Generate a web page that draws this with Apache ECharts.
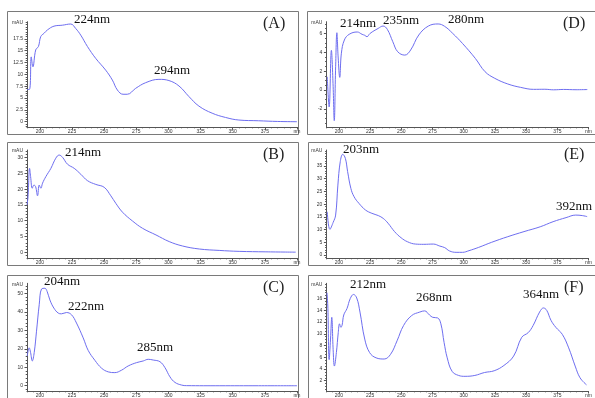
<!DOCTYPE html>
<html>
<head>
<meta charset="utf-8">
<script src="https://cdn.jsdelivr.net/npm/echarts@6/dist/echarts.min.js"></script>
<style>
html, body { margin: 0; background: #fff; }
#chart { width: 595px; height: 398px; }
</style>
</head>
<body>
<div id="chart"></div>
<script>
// spectra: wavelength (nm) and absorbance (mAU)
var nmA = [190, 192, 193.3, 194.6, 196.8, 198.9, 200.7, 203.3, 205.9, 211, 217.5, 224, 227.9, 231.8, 237, 243.4, 251.2, 256.4, 260.3, 264.7, 268, 274.5, 282.3, 292.6, 300.4, 308.2, 316, 323.7, 334, 344.4, 354.8, 370, 385, 400];
var auA = [6.8, 6.85, 13.7, 11.6, 15.2, 15.9, 18, 18.7, 19.4, 20.2, 20.4, 20.65, 19.7, 18.3, 15.9, 13.4, 10.9, 8.8, 6.7, 5.8, 5.8, 7.05, 8.25, 8.95, 8.7, 7.55, 5.3, 3.3, 1.8, 0.9, 0.35, 0.2, 0.05, 0];

var nmB = [190, 190.8, 192, 192.8, 194.1, 195.4, 196.7, 198.2, 199.5, 200.8, 202.1, 204.7, 208.6, 212.4, 215, 217.6, 221.5, 226.7, 231.9, 237, 243.5, 250, 255.2, 259.1, 264.3, 272.1, 279.9, 290.3, 300.6, 311, 324, 339.5, 355, 375.8, 399];
var auB = [15, 17.6, 26.6, 24, 20.3, 21.3, 20.8, 17.9, 21.3, 20.3, 21.9, 24, 26.6, 29.8, 30.8, 30.1, 27.9, 26.6, 24.7, 22.7, 21.5, 20.6, 17.9, 15.5, 12.7, 9.9, 7.6, 5.5, 3.4, 2.0, 1.05, 0.6, 0.3, 0.15, 0.05];

var nmC = [190.2, 191.7, 192.8, 194.1, 195.6, 197.4, 199.5, 201.3, 203.9, 205.7, 207.8, 210.9, 214.3, 216.8, 220.7, 224.6, 228.5, 233.7, 237.6, 242.8, 248, 253.2, 258.3, 263.5, 268.7, 275.2, 280.4, 284.3, 288.2, 293.4, 297.3, 301.2, 305.1, 310.3, 314.2, 340, 370, 400];
var auC = [16.1, 20.5, 17.9, 13.4, 17.9, 29.5, 43.8, 52.3, 52.7, 50.9, 46.4, 42, 39.3, 38.9, 39.6, 38.4, 33.9, 25.9, 19.1, 13.75, 9.5, 7.5, 7.1, 8.4, 10.7, 12.5, 13.4, 14.3, 13.9, 13.0, 9.8, 4.8, 1.8, 0.36, 0.05, 0, 0, 0];

var nmD = [190.7, 192.2, 194, 195.3, 196.3, 197.4, 198.4, 199.4, 200.7, 202, 204.4, 208.2, 214.7, 218.6, 220.7, 222.5, 225, 231.5, 235.4, 238.8, 243.2, 247.1, 252.8, 257.5, 264, 271.7, 279.5, 284.7, 291.2, 299, 309.3, 317.1, 324.9, 335.3, 345.6, 356, 365, 372, 380, 390, 399];
var auD = [1.4, -1.8, 4.2, 0.7, -3.25, 2.47, 6.07, 3.5, 1.34, 3.9, 5.3, 5.9, 6.15, 5.9, 5.8, 5.65, 6.0, 6.53, 6.78, 6.43, 5.12, 4.06, 3.7, 4.24, 5.83, 6.78, 7.0, 6.75, 6.0, 4.94, 3.35, 1.94, 1.24, 0.64, 0.28, 0.07, 0.08, 0.02, 0.06, 0.03, 0.05];

var nmE = [190.7, 192.8, 195.4, 197.4, 199.2, 201.1, 203.1, 205.2, 207, 209.6, 212.2, 216.1, 221.3, 226.4, 231.6, 235.5, 239.4, 244.6, 249.8, 255, 261.4, 268, 275.7, 280.9, 284.8, 288.6, 293.9, 299.1, 304.2, 312, 322.4, 335.3, 348.3, 361.3, 371.6, 382, 389.8, 395, 398.9];
var auE = [17, 10.1, 12.8, 15.7, 27.5, 36.7, 39.6, 38, 32.8, 26.2, 22.9, 20.3, 17.7, 16.4, 15.5, 14.4, 12.5, 9.2, 6.8, 5.2, 4.3, 4.2, 4.3, 3.5, 2.9, 1.6, 1.05, 1.05, 1.7, 3.0, 5.0, 7.2, 9.2, 11.1, 13.1, 14.7, 15.7, 15.5, 15.1];

var nmF = [190.5, 191.2, 192.2, 193.3, 194.3, 195.4, 196.4, 198, 199.5, 200.5, 201.6, 202.6, 203.9, 206.5, 209.1, 211.7, 214.3, 216.9, 220.7, 224.6, 229.8, 236.3, 241.4, 246.6, 251.8, 258.3, 264.8, 268.7, 272.6, 275.2, 279.1, 281.7, 284.3, 286.8, 290.7, 295.9, 301.1, 308.9, 316.7, 324.4, 332.2, 340, 346.5, 351.7, 355.6, 360.8, 363.9, 366.5, 369.9, 373.8, 379, 384.1, 389.3, 393.2, 398.4];
var auF = [17, 14.3, 5.6, 9.1, 12.8, 7.3, 4.5, 6.8, 10.2, 11.7, 11.1, 11.5, 13.2, 14.3, 16.0, 16.7, 16.1, 13.7, 9.1, 6.8, 5.9, 5.7, 6.5, 8.8, 11.4, 13.1, 13.7, 13.9, 13.2, 12.8, 12.7, 11.7, 8.5, 5.9, 3.6, 2.9, 2.75, 2.9, 3.4, 3.7, 4.6, 6.2, 9.4, 10.2, 11.4, 13.7, 14.4, 14.0, 12.3, 11.1, 9.9, 7.6, 4.5, 2.5, 1.3];

// tick labels
var xTicks = [200, 225, 250, 275, 300, 325, 350, 375];
var yTicksA = [0, 2.5, 5, 7.5, 10, 12.5, 15, 17.5];
var yTicksB = [0, 5, 10, 15, 20, 25, 30];
var yTicksC = [0, 10, 20, 30, 40, 50];
var yTicksD = [-2, 0, 2, 4, 6];
var yTicksE = [0, 5, 10, 15, 20, 25, 30, 35];
var yTicksF = [2, 4, 6, 8, 10, 12, 14, 16];

// peak labels
var peaksA = ['224nm', '294nm'];
var peaksB = ['214nm'];
var peaksC = ['204nm', '222nm', '285nm'];
var peaksD = ['214nm', '235nm', '280nm'];
var peaksE = ['203nm', '392nm'];
var peaksF = ['212nm', '268nm', '364nm'];

var LINE = '#6e6ef0';
var AXIS = '#555';

function steps(a, b, s) {
  var out = [];
  for (var v = a; v <= b + 1e-9; v += s) out.push(Math.round(v * 100) / 100);
  return out;
}

// panel layout: frame box, plot box, y range
var panels = [
  { tag: '(A)', nm: nmA, au: auA, ticks: yTicksA, minor: 0.5, min: -1.12, max: 21.14,
    frame: [7, 11], left: 27, top: 21.7, bottom: 127,
    peaks: peaksA, pos: [[74, 20], [154, 71]] },
  { tag: '(D)', nm: nmD, au: auD, ticks: yTicksD, minor: 0.5, min: -3.92, max: 7.24,
    frame: [307, 11], left: 326.4, top: 21.7, bottom: 127,
    peaks: peaksD, pos: [[340, 24], [383, 21], [448, 20]] },
  { tag: '(B)', nm: nmB, au: auB, ticks: yTicksB, minor: 1, min: -1.8, max: 32.4,
    frame: [7, 142], left: 27, top: 150, bottom: 258,
    peaks: peaksB, pos: [[65, 153]] },
  { tag: '(E)', nm: nmE, au: auE, ticks: yTicksE, minor: 1, min: -1.18, max: 41.3,
    frame: [308, 142], left: 326.4, top: 150, bottom: 258,
    peaks: peaksE, pos: [[343, 150], [556, 207]] },
  { tag: '(C)', nm: nmC, au: auC, ticks: yTicksC, minor: 2, min: -2.84, max: 55.4,
    frame: [7, 275], left: 27, top: 283.3, bottom: 392,
    peaks: peaksC, pos: [[44, 282], [68, 307], [137, 348]] },
  { tag: '(F)', nm: nmF, au: auF, ticks: yTicksF, minor: 0.5, min: 0.25, max: 18.6,
    frame: [308, 275], left: 326.4, top: 283.3, bottom: 392,
    peaks: peaksF, pos: [[350, 285], [416, 298], [523, 295]] }
];

var grids = [], xAxes = [], yAxes = [], series = [], graphics = [];
var minorX = steps(190, 400, 5);

panels.forEach(function (p, i) {
  grids.push({ left: p.left, top: p.top, width: 270, height: p.bottom - p.top });

  var xBase = {
    type: 'value', gridIndex: i, min: 190, max: 400, position: 'bottom',
    splitLine: { show: false }
  };
  xAxes.push(Object.assign({}, xBase, {
    axisLine: { onZero: false, lineStyle: { color: AXIS, width: 1 } },
    axisTick: { customValues: xTicks.concat([400]), length: 2.5, lineStyle: { color: AXIS } },
    axisLabel: {
      customValues: xTicks.concat([400]), fontSize: 5, color: '#333', margin: 2,
      fontFamily: 'Liberation Sans',
      formatter: function (v) { return v === 400 ? 'nm' : String(v); }
    }
  }));
  xAxes.push(Object.assign({}, xBase, {
    axisLine: { show: false, onZero: false },
    axisTick: { customValues: minorX, length: 1.3, lineStyle: { color: AXIS } },
    axisLabel: { show: false }
  }));

  var yBase = {
    type: 'value', gridIndex: i, min: p.min, max: p.max, position: 'left',
    splitLine: { show: false }
  };
  yAxes.push(Object.assign({}, yBase, {
    name: 'mAU', nameLocation: 'end', nameGap: -1,
    nameTextStyle: { fontSize: 5, color: '#333', align: 'right', verticalAlign: 'middle',
      padding: [0, 4, 0, 0], fontFamily: 'Liberation Sans' },
    axisLine: { onZero: false, lineStyle: { color: AXIS, width: 1 } },
    axisTick: { customValues: p.ticks, length: 2.5, lineStyle: { color: AXIS } },
    axisLabel: { customValues: p.ticks, fontSize: 5, color: '#333', margin: 4,
      fontFamily: 'Liberation Sans' }
  }));
  yAxes.push(Object.assign({}, yBase, {
    axisLine: { show: false, onZero: false },
    axisTick: { customValues: steps(Math.ceil(p.min / p.minor) * p.minor, p.max, p.minor),
      length: 1.3, lineStyle: { color: AXIS } },
    axisLabel: { show: false }
  }));

  series.push({
    type: 'line', xAxisIndex: i * 2, yAxisIndex: i * 2,
    data: p.nm.map(function (x, k) { return [x, p.au[k]]; }),
    showSymbol: false, smooth: 0.4,
    lineStyle: { color: LINE, width: 1 }, silent: true, animation: false
  });

  graphics.push({
    type: 'rect', shape: { x: p.frame[0] + 0.5, y: p.frame[1] + 0.5, width: 291, height: 123 },
    style: { fill: 'none', stroke: '#7a7a7a', lineWidth: 1 }, silent: true
  });
  graphics.push({
    type: 'text', x: p.frame[0] + 256, y: p.frame[1] + 13,
    style: { text: p.tag, font: '16px "Liberation Serif"', fill: '#222', verticalAlign: 'middle' }
  });
  p.peaks.forEach(function (t, k) {
    graphics.push({
      type: 'text', x: p.pos[k][0], y: p.pos[k][1],
      style: { text: t, font: '13px "Liberation Serif"', fill: '#111', verticalAlign: 'middle' }
    });
  });
});

var chart = echarts.init(document.getElementById('chart'), null, { renderer: 'canvas' });
chart.setOption({
  animation: false,
  backgroundColor: '#fff',
  grid: grids,
  xAxis: xAxes,
  yAxis: yAxes,
  series: series,
  graphic: graphics
});
</script>
</body>
</html>
